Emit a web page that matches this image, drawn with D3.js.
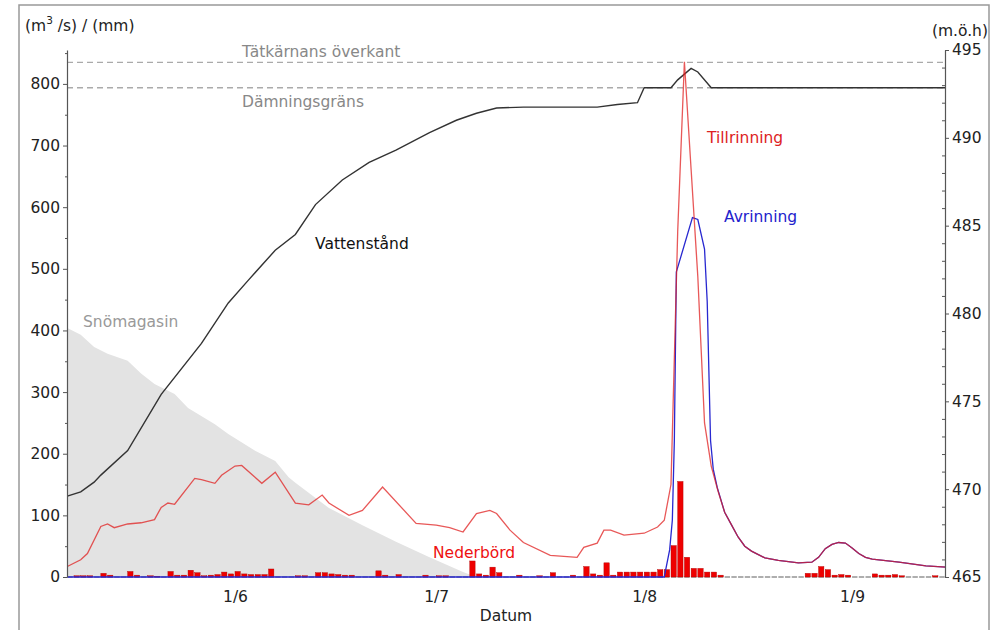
<!DOCTYPE html>
<html><head><meta charset="utf-8">
<script src="https://cdn.jsdelivr.net/npm/d3@7"></script>
<style>body{margin:0;background:#fff}svg{display:block}text{font-family:"DejaVu Sans",sans-serif}</style>
</head><body><svg id="c" width="998" height="630"></svg>
<script>
// ---------- data ----------
const startDay = "2015-05-07";            // day index 0
const nDays = 131;                          // x domain end (day index)
const monthTicks = ["2015-06-01","2015-07-01","2015-08-01","2015-09-01"];
const leftTicks = [0,100,200,300,400,500,600,700,800];
const rightTicks = [465,470,475,480,485,490,495];
const leftMax = 855;
const rightDomain = [465,495];

// Snömagasin (mm)
const snowDay = [0,2,4,6,9,11,13,16,18,22,24,28,31,33,34,39,44,49,54,59,61];
const snowVal = [404,393,373,362,351,330,313,297,274,248,232,205,188,162,153,112,84,57,32,8,0];

// Tillrinning (m3/s)
const inflowDay = [0,2,3,5,6,7,9,11,13,14,15,16,19,20,22,23,25,26,29,31,34,36,38,39,42,44,47,52,55,57,59,61,63,64,66,68,72,76,77,79,80,81,83,86,88,89,90,91,92,93,94,95,96,97,98,99,100,101,102,104,106,109,111,112,113,114,115,116,117,118,119,120,124,128,131];
const inflowVal = [17,28,38,82,86,80,86,88,93,113,120,118,160,158,152,165,180,181,152,170,120,117,133,120,100,108,146,87,84,80,73,103,108,103,76,56,35,32,48,55,76,76,68,71,81,92,150,560,836,661,487,250,180,140,105,85,65,50,42,31,27,23,24,32,46,53,56,55,47,38,32,29,24,18,16];

// Avrinning (m3/s)
const outflowDay = [0,89,89.2,89.8,90.2,90.5,90.8,93.2,94,95,95.4,95.9,96.3,96.9,98,99,100,101,102,104,106,109,111,112,113,114,115,116,117,118,119,120,124,128,131];
const outflowVal = [0,0,11,44,92,221,495,583,580,532,447,221,175,145,105,85,65,50,42,31,27,23,24,32,46,53,56,55,47,38,32,29,24,18,16];

// Vattenstånd (m.ö.h)
const levelDay = [0,2,4,5,9,14,20,24,27,31,34,37,41,45,49,54,58,61,64,68,79,82,85,86,90,91,93,94,96,131];
const levelVal = [469.6,469.85,470.4,470.8,472.2,475.4,478.3,480.6,481.9,483.6,484.5,486.2,487.6,488.6,489.3,490.3,491.0,491.4,491.7,491.75,491.75,491.9,492.0,492.85,492.85,493.3,493.95,493.75,492.85,492.85];

// Nederbörd (mm/dygn), one value per day from day 0
const precip = [0,2,2,2,0,6,3,0,0,9, 3,0,2,1,0,9,3,3,11,7, 2,3,4,8,5,9,5,4,4,4,
  13,0,0,0,2,2,0,7,7,5, 4,3,3,0,0,0,10,3,0,4, 0,0,0,3,0,2,2,0,0,0,
  26,5,3,16,7,0,0,3,0,0, 2,0,7,0,0,3,0,17,5,3, 23,3,8,8,8,8,8,8,12,12,
  51,155,32,14,14,8,8,3,0,0, 0,0,0,0,0,0,0,0,0,0, 6,6,17,12,3,4,3,0,0,0,
  5,3,3,4,2,0,0,0,0,2,0];

const damLevel = 492.85;      // Dämningsgräns
const coreTop = 494.3;        // Tätkärnans överkant

// ---------- drawing ----------
const svg = d3.select("#c");
const t0 = new Date(startDay + "T00:00:00Z").getTime();
const dayDate = d => new Date(t0 + d * 864e5);

const x = d3.scaleUtc().domain([dayDate(0), dayDate(nDays)]).range([67.3, 946]);
const yL = d3.scaleLinear().domain([0, leftMax]).range([577, 50]);
const yR = d3.scaleLinear().domain(rightDomain).range([577, 50]);

// outer frame
svg.append("rect").attr("x",19).attr("y",5).attr("width",970).attr("height",700)
  .attr("fill","none").attr("stroke","#999").attr("stroke-width",1.5);

// snow area
const snow = snowDay.map((d,i)=>({d, v:snowVal[i]}));
svg.append("path").datum(snow)
  .attr("d", d3.area().x(p=>x(dayDate(p.d))).y0(yL(0)).y1(p=>yL(p.v)))
  .attr("fill","#e3e3e3");

// dashed reference lines
[coreTop, damLevel].forEach(v=>{
  svg.append("line").attr("x1",67).attr("x2",945).attr("y1",yR(v)).attr("y2",yR(v))
    .attr("stroke","#aaa").attr("stroke-width",1.3).attr("stroke-dasharray","6,4");
});

// water level
const level = levelDay.map((d,i)=>({d, v:levelVal[i]}));
svg.append("path").datum(level)
  .attr("d", d3.line().x(p=>x(dayDate(p.d))).y(p=>yR(p.v)))
  .attr("fill","none").attr("stroke","#333").attr("stroke-width",1.4);

// precipitation bars (left-aligned, 0.8 day wide)
const bars = precip.map((v,i)=>({d:i, v}));
const bw = x(dayDate(0.8)) - x(dayDate(0));
svg.append("g").selectAll("line").data(bars).join("line")
  .attr("x1",b=>x(dayDate(b.d))).attr("x2",b=>x(dayDate(b.d))+bw)
  .attr("y1",yL(0)).attr("y2",yL(0)).attr("stroke","#777").attr("stroke-width",1.2);
svg.append("g").selectAll("rect").data(bars.filter(b=>b.v>0)).join("rect")
  .attr("x",b=>x(dayDate(b.d))).attr("width",bw)
  .attr("y",b=>yL(b.v)).attr("height",b=>yL(0)-yL(b.v))
  .attr("fill","#ee0000").attr("stroke","#b00000").attr("stroke-width",0.4);

// outflow
const outflow = outflowDay.map((d,i)=>({d, v:outflowVal[i]}));
svg.append("path").datum(outflow)
  .attr("d", d3.line().x(p=>x(dayDate(p.d))).y(p=>yL(p.v)))
  .attr("fill","none").attr("stroke","#2828d0").attr("stroke-width",1.3);

// inflow
const inflow = inflowDay.map((d,i)=>({d, v:inflowVal[i]}));
svg.append("path").datum(inflow)
  .attr("d", d3.line().x(p=>x(dayDate(p.d))).y(p=>yL(p.v)))
  .attr("fill","none").attr("stroke","#e02020").attr("stroke-opacity",0.75).attr("stroke-width",1.3);

// axes
const fs = "15.5px";
function styleAxis(g){
  g.selectAll(".domain").attr("stroke","#555").attr("stroke-width",1.2);
  g.selectAll(".tick line").attr("stroke","#555");
  g.selectAll("text").attr("font-size",fs).attr("fill","#222").attr("font-family","DejaVu Sans");
}
const gL = svg.append("g").attr("transform","translate(67,0)")
  .call(d3.axisLeft(yL).tickValues(leftTicks).tickSize(4).tickSizeOuter(0).tickPadding(3));
styleAxis(gL);
const leftMinor = d3.range(50, leftMax, 100);
const gLm = svg.append("g").attr("transform","translate(67,0)")
  .call(d3.axisLeft(yL).tickValues(leftMinor).tickSize(2).tickFormat(""));
gLm.select(".domain").remove(); styleAxis(gLm);

const gR = svg.append("g").attr("transform","translate(945,0)")
  .call(d3.axisRight(yR).tickValues(rightTicks).tickSize(4).tickSizeOuter(0).tickPadding(3));
styleAxis(gR);
const rightMinor = d3.range(466, 495, 1).filter(v=>v%5!==0);
const gRm = svg.append("g").attr("transform","translate(945,0)")
  .call(d3.axisLeft(yR).tickValues(rightMinor).tickSize(3).tickFormat(""));
gRm.select(".domain").remove(); styleAxis(gRm);

const gX = svg.append("g").attr("transform","translate(0,577)")
  .call(d3.axisBottom(x).tickValues(monthTicks.map(s=>new Date(s+"T00:00:00Z")))
    .tickFormat(d3.utcFormat("%-d/%-m")).tickSize(0).tickPadding(14));
gX.select(".domain").remove(); styleAxis(gX);

// texts
function label(txt, xx, yy, color, anchor){
  return svg.append("text").attr("x",xx).attr("y",yy).attr("fill",color)
    .attr("font-size",fs).attr("text-anchor",anchor||"start").text(txt);
}
const yl = svg.append("text").attr("x",25).attr("y",31).attr("font-size",fs).attr("fill","#222");
yl.append("tspan").text("(m");
yl.append("tspan").attr("font-size","10.5px").attr("dy",-7).text("3");
yl.append("tspan").attr("dy",7).text(" /s) / (mm)");
label("(m.ö.h)", 988, 36, "#222", "end");
label("Tätkärnans överkant", 242, 57, "#888");
label("Dämningsgräns", 242, 107, "#888");
label("Vattenstånd", 315, 249, "#111");
label("Tillrinning", 707, 143, "#dd2222");
label("Avrinning", 724, 222, "#2222cc");
label("Snömagasin", 83, 327, "#999");
label("Nederbörd", 433, 558, "#ee1111");
label("Datum", 506, 621, "#222", "middle");
</script></body></html>
